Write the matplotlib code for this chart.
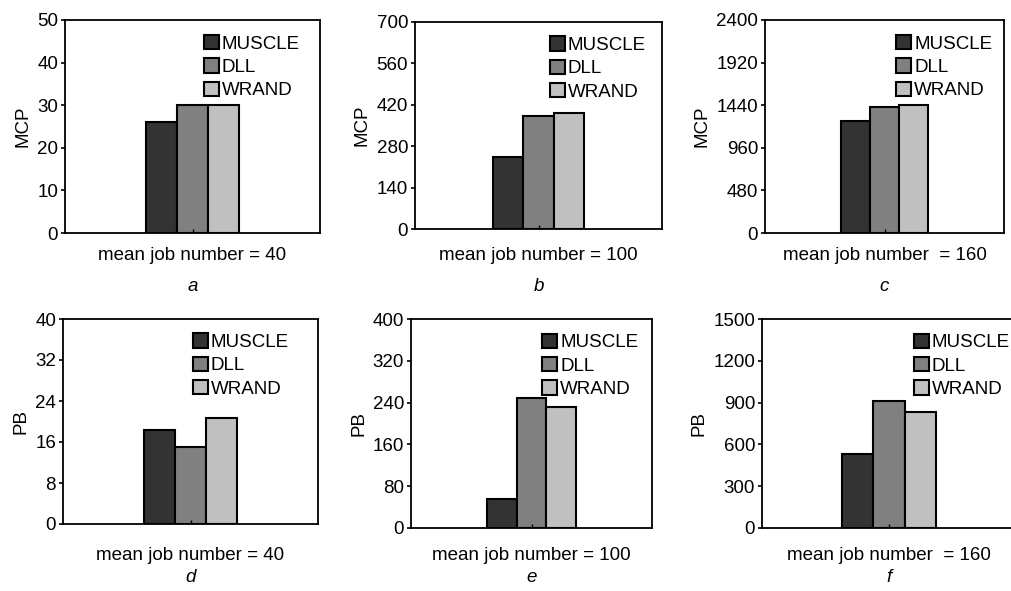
import matplotlib
matplotlib.use("Agg")
import matplotlib.pyplot as plt

plt.rcParams['font.family'] = ['Liberation Sans', 'DejaVu Sans']

methods = ["MUSCLE", "DLL", "WRAND"]
colors = ["#333333", "#808080", "#c0c0c0"]

mcp_40 = [26, 30, 30]
mcp_100 = [245, 383, 391]
mcp_160 = [1262, 1420, 1446]
pb_40 = [18.4, 15, 20.7]
pb_100 = [55, 248, 231]
pb_160 = [532, 913, 829]

panels = [
    # values, ylabel, ymax, ystep, xlabel, letter, box (l, r, t, b in px), legend x
    (mcp_40, "MCP", 50, 10, "mean job number = 40", "a", (65, 320, 20, 233), 0.545),
    (mcp_100, "MCP", 700, 140, "mean job number = 100", "b", (415, 662, 22, 229), 0.545),
    (mcp_160, "MCP", 2400, 480, "mean job number  = 160", "c", (765, 1004, 20, 233), 0.55),
    (pb_40, "PB", 40, 8, "mean job number = 40", "d", (63, 318, 319, 524), 0.51),
    (pb_100, "PB", 400, 80, "mean job number = 100", "e", (411, 652, 319, 528), 0.545),
    (pb_160, "PB", 1500, 300, "mean job number  = 160", "f", (762, 1016, 319, 528), 0.597),
]

W, H = 1011, 591
fs = 13.5
fig = plt.figure(figsize=(W / 100, H / 100), dpi=100)

w = 0.245
for vals, ylab, ymax, ystep, xlab, letter, (l, r, t, b), lx in panels:
    ax = fig.add_axes([l / W, 1 - b / H, (r - l) / W, (b - t) / H])
    for i, v in enumerate(vals):
        ax.bar((i - 1) * w, v, width=w, color=colors[i], edgecolor="black",
               linewidth=1.5, label=methods[i])
    ax.set_xlim(-1, 1)
    ax.set_ylim(0, ymax)
    ax.set_yticks(range(0, ymax + 1, ystep))
    ax.set_xticks([0])
    ax.set_xticklabels([])
    ax.tick_params(axis="x", direction="in", length=3, width=1)
    ax.tick_params(axis="y", direction="out", length=3, width=1.2, pad=2, labelsize=fs)
    for s in ax.spines.values():
        s.set_linewidth(1.3)
    ax.set_ylabel(ylab, fontsize=fs, labelpad=4)
    ax.legend(loc="upper left", bbox_to_anchor=(lx, 0.93), frameon=False,
              fontsize=fs, handlelength=0.8, handleheight=0.8, handletextpad=0.15,
              labelspacing=0.3, borderpad=0, borderaxespad=0)
    cx = (l + r) / 2
    if t < 100:
        ly, ty = 256, 287
    else:
        ly, ty = 555, 577
    fig.text(cx / W, 1 - ly / H, xlab, ha="center", va="center", fontsize=fs)
    fig.text(cx / W, 1 - ty / H, letter, ha="center", va="center", fontsize=fs,
             style="italic")

fig.savefig("out.png", dpi=100)
